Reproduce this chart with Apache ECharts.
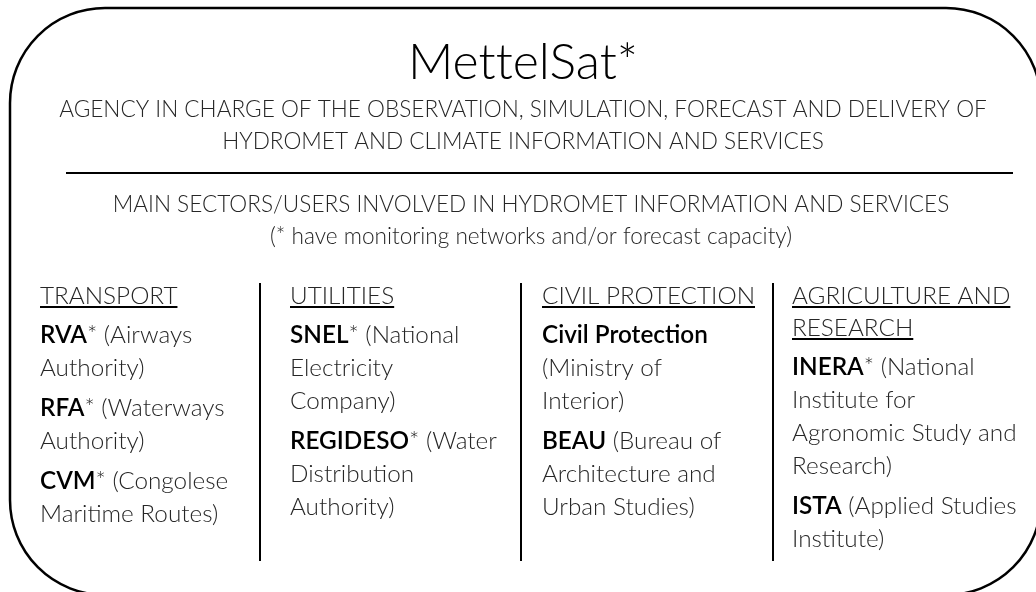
<!DOCTYPE html>
<html>
<head>
<meta charset="utf-8">
<script src="https://cdn.jsdelivr.net/npm/echarts@6/dist/echarts.min.js"></script>
<style>
  html, body { margin: 0; padding: 0; background: #fff; }
  #main { width: 1036px; height: 592px; }
</style>
</head>
<body>
<div id="main"></div>
<script>
// texts of the diagram (\u200C keeps "tt" from turning into a ligature)
const titleText = 'Met\u200Ctel' + 'Sat*';
const agencyLines = [
  'AGENCY IN CHARGE OF THE OBSERVATION, SIMULATION, FORECAST AND DELIVERY OF',
  'HYDROMET AND CLIMATE INFORMATION AND SERVICES'
];
const sectorLines = [
  'MAIN SECTORS/USERS INVOLVED IN HYDROMET INFORMATION AND SERVICES',
  '(* have monitoring networks and/or forecast capacity)'
];
const sectorNames = [
  ['TRANSPORT'],
  ['UTILITIES'],
  ['CIVIL PROTECTION'],
  ['AGRICULTURE AND', 'RESEARCH']
];
// {b|...} marks the bold acronym
const sectorUsers = [
  [
    ['{b|RVA}* (Airways', 'Authority)'],
    ['{b|RFA}* (Waterways', 'Authority)'],
    ['{b|CVM}* (Congolese', 'Maritime Routes)']
  ],
  [
    ['{b|SNEL}* (National', 'Electricity', 'Company)'],
    ['{b|REGIDESO}* (Water', 'Distribution', 'Authority)']
  ],
  [
    ['{b|Civil Protection}', '(Ministry of', 'Interior)'],
    ['{b|BEAU} (Bureau of', 'Architecture and', 'Urban Studies)']
  ],
  [
    ['{b|INERA}* (National', 'Institute for', 'Agronomic Study and', 'Research)'],
    ['{b|ISTA} (Applied Studies', 'Institute)']
  ]
];

const FONT = 'Lato';
const textColor = '#262626';
const colX = [40, 290, 542, 792];
const sepX = [260, 521, 773];
const headSize = 22.6;
const bodySize = 24.3;

const canvas = document.createElement('canvas');
const ctx = canvas.getContext('2d');
function textWidth(str, size) {
  ctx.font = '300 ' + size + 'px ' + FONT;
  return ctx.measureText(str).width;
}

function txt(x, y, text, size, align, color, rich) {
  return {
    type: 'text',
    x: x,
    y: y,
    style: {
      text: text,
      fontFamily: FONT,
      fontSize: size,
      fontWeight: 300,
      fill: color || textColor,
      align: align || 'left',
      textAlign: align || 'left',
      verticalAlign: 'middle',
      textVerticalAlign: 'middle',
      rich: rich
    }
  };
}

function line(x1, y1, x2, y2, w) {
  return {
    type: 'line',
    shape: { x1: x1, y1: y1, x2: x2, y2: y2 },
    style: { stroke: '#000', lineWidth: w || 2 }
  };
}

let elements = [];
// outer rounded frame
elements.push({
  type: 'rect',
  shape: { x: 10, y: 8, width: 1031, height: 587, r: 95 },
  style: { fill: 'none', stroke: '#000', lineWidth: 2.5 }
});
elements.push(txt(523, 63, titleText, 50, 'center', '#000'));
agencyLines.forEach(function (s, i) {
  elements.push(txt(523, 110 + i * 32, s, headSize, 'center'));
});
elements.push(line(66, 173, 1013, 173, 2));
sectorLines.forEach(function (s, i) {
  elements.push(txt(531, 205 + i * 32, s, headSize, 'center'));
});
sepX.forEach(function (x) {
  elements.push(line(x, 283, x, 561, 2));
});

const richB = { b: { fontFamily: FONT, fontSize: bodySize, fontWeight: 600, fill: '#000' } };
sectorNames.forEach(function (names, c) {
  let y = 296;
  names.forEach(function (n, k) {
    elements.push(txt(colX[c], y, n, bodySize, 'left'));
    let w = textWidth(n, bodySize);
    elements.push(line(colX[c], y + 11, colX[c] + w, y + 11, 2));
    if (k < names.length - 1) y += 32;
  });
  y += 39;
  sectorUsers[c].forEach(function (para, p) {
    para.forEach(function (l, k) {
      elements.push(txt(colX[c], y, l, bodySize, 'left', textColor, richB));
      if (k < para.length - 1) y += 33;
    });
    y += 40;
  });
});

const chart = echarts.init(document.getElementById('main'), null, { renderer: 'canvas' });
chart.setOption({
  animation: false,
  graphic: { elements: elements }
});
</script>
</body>
</html>
